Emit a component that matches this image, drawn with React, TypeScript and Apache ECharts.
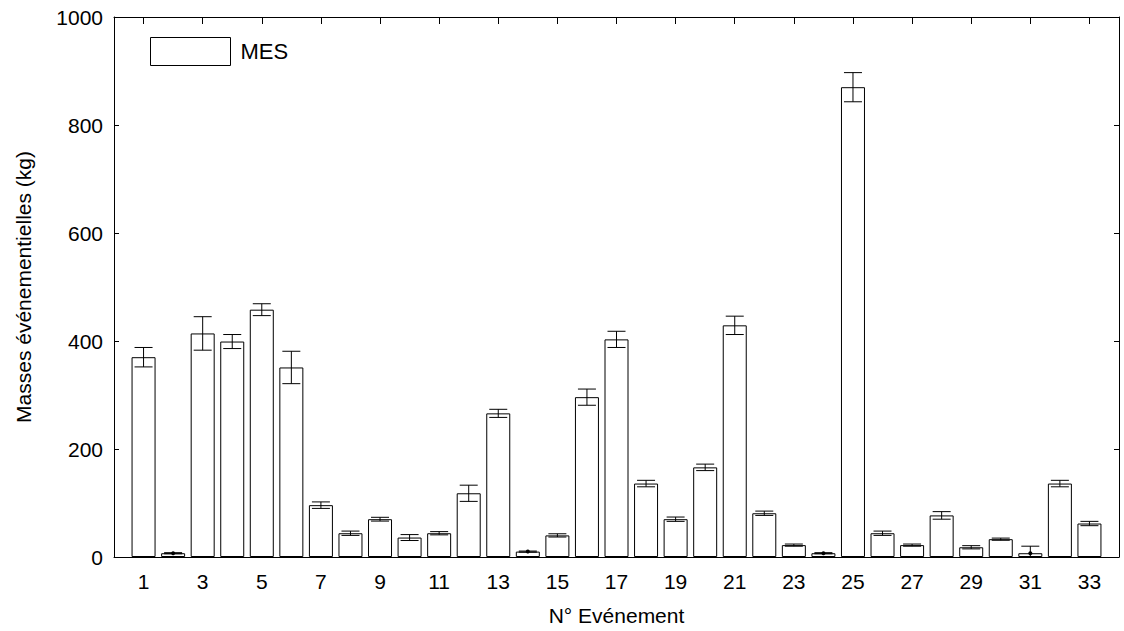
import React, { useEffect, useRef } from 'react';
import * as echarts from 'echarts';

const events = [1, 2, 3, 4, 5, 6, 7, 8, 9, 10, 11, 12, 13, 14, 15, 16, 17, 18, 19, 20, 21, 22, 23, 24, 25, 26, 27, 28, 29, 30, 31, 32, 33];
const masses = [370, 7, 414, 399, 458, 351, 96, 44, 70, 36, 44, 118, 266, 10, 40, 296, 403, 136, 70, 166, 429, 81, 22, 7, 870, 44, 22, 77, 18, 33, 7, 136, 62];
const errors = [18, 1, 31, 13, 11, 30, 6, 4, 3.5, 5.5, 3, 15, 7.5, 1, 3, 15, 15, 6, 4, 6, 17, 4, 2, 1, 27, 4, 2, 7, 3, 2, 13, 6, 4];
const xTickLabels = [1, 3, 5, 7, 9, 11, 13, 15, 17, 19, 21, 23, 25, 27, 29, 31, 33];
const yTickValues = [0, 200, 400, 600, 800, 1000];

export default function App() {
  const ref = useRef<HTMLDivElement>(null);
  useEffect(() => {
    const chart = echarts.init(ref.current!, null, { renderer: 'svg' });
    const font = "'Liberation Sans', Arial, sans-serif";
    const black = '#000';
    chart.setOption({
      animation: false,
      backgroundColor: '#fff',
      grid: { left: 114, right: 5, top: 17, bottom: 74 },
      legend: {
        data: ['MES'],
        left: 150,
        top: 37,
        padding: 0,
        icon: 'rect',
        itemWidth: 80,
        itemHeight: 28,
        itemStyle: { color: '#fff', borderColor: black, borderWidth: 1 },
        textStyle: { fontFamily: font, fontSize: 22, color: black, padding: [0, 0, 0, 5] },
      },
      xAxis: [
        {
          type: 'value',
          min: 0,
          max: 34,
          position: 'bottom',
          axisLine: { show: true, onZero: false, lineStyle: { color: black, width: 1 } },
          axisTick: { show: false },
          splitLine: { show: false },
          axisLabel: { customValues: xTickLabels, formatter: (v: number) => String(v), fontFamily: font, fontSize: 21, color: black, margin: 14 },
          name: 'N° Evénement',
          nameLocation: 'middle',
          nameGap: 48,
          nameTextStyle: { fontFamily: font, fontSize: 21, color: black },
        },
        {
          type: 'value',
          min: 0,
          max: 34,
          position: 'top',
          axisLine: { show: true, onZero: false, lineStyle: { color: black, width: 1 } },
          axisTick: { show: true, inside: true, length: 7, customValues: xTickLabels, lineStyle: { color: black } },
          splitLine: { show: false },
          axisLabel: { show: false },
        },
      ],
      yAxis: [
        {
          type: 'value',
          min: 0,
          max: 1000,
          interval: 200,
          position: 'left',
          axisLine: { show: true, onZero: false, lineStyle: { color: black, width: 1 } },
          axisTick: { show: true, inside: true, length: 5, lineStyle: { color: black } },
          splitLine: { show: false },
          axisLabel: { customValues: yTickValues, formatter: (v: number) => String(v), fontFamily: font, fontSize: 21, color: black, margin: 11 },
          name: 'Masses événementielles (kg)',
          nameLocation: 'middle',
          nameGap: 80,
          nameTextStyle: { fontFamily: font, fontSize: 21, color: black },
        },
        {
          type: 'value',
          min: 0,
          max: 1000,
          interval: 200,
          position: 'right',
          axisLine: { show: true, onZero: false, lineStyle: { color: black, width: 1 } },
          axisTick: { show: true, inside: true, length: 5, lineStyle: { color: black } },
          splitLine: { show: false },
          axisLabel: { show: false },
        },
      ],
      series: [
        {
          name: 'MES',
          type: 'bar',
          xAxisIndex: 0,
          yAxisIndex: 0,
          barWidth: 24,
          z: 2,
          data: events.map((x, i) => [x, masses[i]]),
          itemStyle: { color: '#fff', borderColor: black, borderWidth: 1 },
        },
        {
          name: 'err',
          type: 'custom',
          xAxisIndex: 0,
          yAxisIndex: 0,
          clip: true,
          z: 5,
          data: events.map((x, i) => [x, masses[i], errors[i]]),
          encode: { x: 0, y: 1 },
          renderItem: (params: any, api: any) => {
            const x = api.value(0);
            const v = api.value(1);
            const e = api.value(2);
            const top = api.coord([x, v + e]);
            const bot = api.coord([x, v - e]);
            const c = api.coord([x, v]);
            const hw = 9;
            const st = { stroke: black, lineWidth: 1 };
            const children: any[] = [
              { type: 'line', shape: { x1: top[0], y1: top[1], x2: bot[0], y2: bot[1] }, style: st },
              { type: 'line', shape: { x1: top[0] - hw, y1: top[1], x2: top[0] + hw, y2: top[1] }, style: st },
              { type: 'line', shape: { x1: bot[0] - hw, y1: bot[1], x2: bot[0] + hw, y2: bot[1] }, style: st },
            ];
            if (v < 12) {
              children.push({ type: 'circle', shape: { cx: c[0], cy: c[1], r: 2 }, style: { fill: black } });
            }
            return { type: 'group', children };
          },
        },
      ],
    });
    return () => chart.dispose();
  }, []);
  return <div ref={ref} style={{ position: 'fixed', left: 0, top: 0, width: 1124, height: 631, background: '#fff' }} />;
}
